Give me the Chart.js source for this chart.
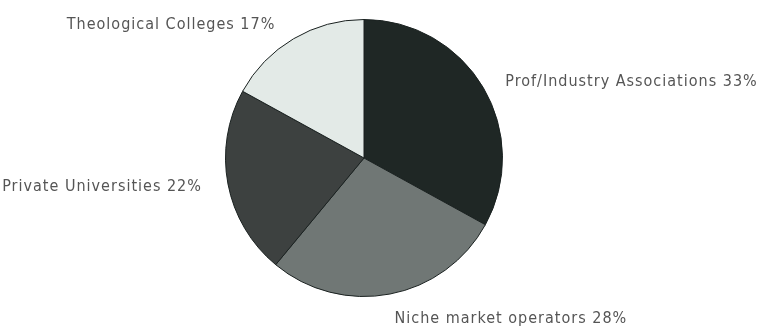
<!DOCTYPE html>
<html><head><meta charset="utf-8">
<script src="https://cdn.jsdelivr.net/npm/chart.js@4/dist/chart.umd.min.js"></script>
<style>html,body{margin:0;padding:0;background:#fff}#wrap{width:763px;height:331px;position:relative}</style>
</head><body><div id="wrap"><canvas id="c"></canvas></div>
<script>
const categories = ["Prof/Industry Associations", "Niche market operators", "Private Universities", "Theological Colleges"];
const shares = [33, 28, 22, 17];
const sliceColors = ["#1f2725", "#707775", "#3d4140", "#e3eae7"];
// label anchor: [dx, dy] in units of radius from the centre, and text alignment
const labelSpots = [[1.02, -0.55, "left"], [0.22, 1.16, "left"], [-1.17, 0.21, "right"], [-0.64, -0.96, "right"]];

const labelPlugin = {
  id: "labels",
  afterDatasetsDraw(chart) {
    const ctx = chart.ctx;
    const meta = chart.getDatasetMeta(0);
    ctx.save();
    ctx.font = "16px 'DejaVu Sans Condensed', 'DejaVu Sans', sans-serif";
    ctx.letterSpacing = "1px";
    ctx.fillStyle = "#555555";
    ctx.textBaseline = "middle";
    meta.data.forEach((arc, i) => {
      const r = arc.outerRadius;
      const s = labelSpots[i];
      ctx.textAlign = s[2];
      ctx.fillText(categories[i] + " " + shares[i] + "%", arc.x + s[0] * r, arc.y + s[1] * r);
    });
    ctx.restore();
  }
};

new Chart(document.getElementById("c"), {
  type: "pie",
  data: { labels: categories, datasets: [{ data: shares, backgroundColor: sliceColors, borderColor: "#1a2120", borderWidth: 1 }] },
  options: {
    responsive: true, maintainAspectRatio: false, animation: false,
    layout: { padding: { left: 0, right: 35, top: 19, bottom: 34 } },
    plugins: { legend: { display: false }, tooltip: { enabled: false } }
  },
  plugins: [labelPlugin]
});
</script></body></html>
